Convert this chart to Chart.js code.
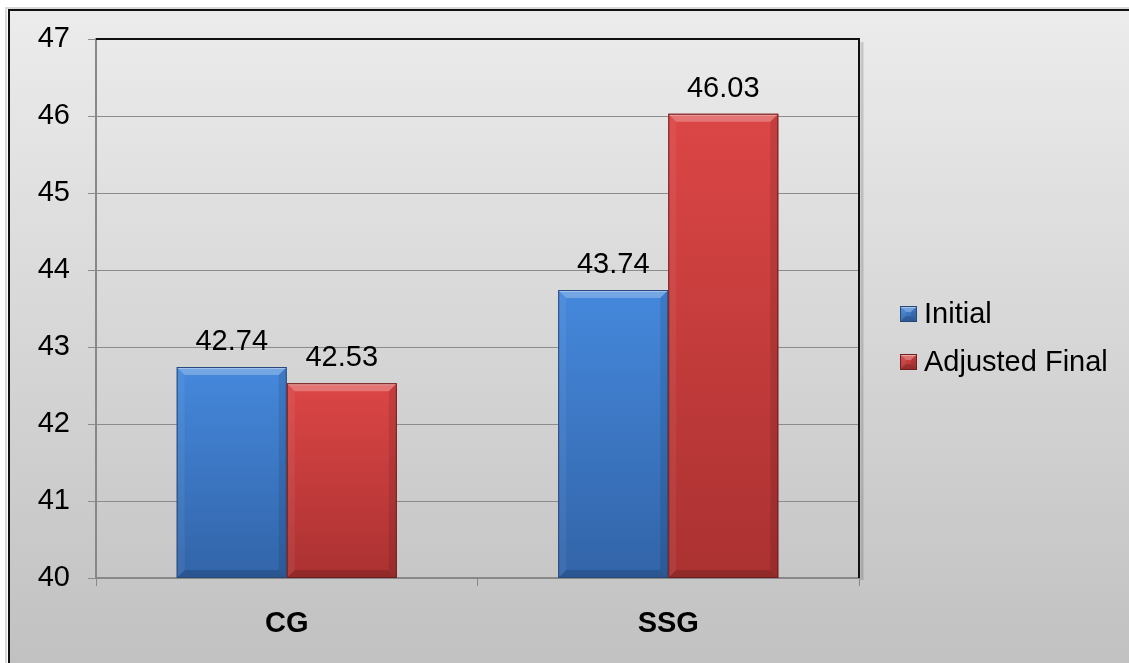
<!DOCTYPE html>
<html>
<head>
<meta charset="utf-8">
<script src="https://cdn.jsdelivr.net/npm/chart.js@4.4.0/dist/chart.umd.min.js"></script>
<style>
  html, body { margin: 0; padding: 0; background: #fff; }
  #wrap { width: 1129px; height: 663px; }
</style>
</head>
<body>
<div id="wrap"><canvas id="myChart" width="1129" height="663"></canvas></div>
<script>
// chart data
const categories = ["CG", "SSG"];
const seriesNames = ["Initial", "Adjusted Final"];
const initialValues = [42.74, 43.74];
const adjustedValues = [42.53, 46.03];
const yMin = 40;
const yMax = 47;

const FONT = "'Liberation Sans', Arial, sans-serif";
const solidColors = ["#3d78c6", "#d33f3f"];
const topColors = ["#4588dc", "#dc4646"];
const bottomColors = ["#3264a8", "#ab3131"];
const edgeColors = ["#27497a", "#6e1f1f"];

// gradient runs from each bar's top down to the axis
function barGradient(i) {
  return (context) => {
    const chart = context.chart;
    const area = chart.chartArea;
    const yScale = chart.scales.y;
    if (!area || !yScale || context.parsed == null) return solidColors[i];
    const top = yScale.getPixelForValue(context.parsed.y);
    const g = chart.ctx.createLinearGradient(0, top, 0, area.bottom);
    g.addColorStop(0, topColors[i]);
    g.addColorStop(1, bottomColors[i]);
    return g;
  };
}

// bevelled box, used for bars and legend keys
function bevelBox(ctx, l, t, r, b, s, edge) {
  const poly = (pts, fill) => {
    ctx.beginPath();
    ctx.moveTo(pts[0][0], pts[0][1]);
    for (let k = 1; k < pts.length; k++) ctx.lineTo(pts[k][0], pts[k][1]);
    ctx.closePath();
    ctx.fillStyle = fill;
    ctx.fill();
  };
  poly([[l, t], [r, t], [r - s, t + s], [l + s, t + s]], "rgba(255,255,255,0.26)");
  poly([[l, t], [l + s, t + s], [l + s, b - s], [l, b]], "rgba(255,255,255,0.06)");
  poly([[r, t], [r - s, t + s], [r - s, b - s], [r, b]], "rgba(0,0,0,0.10)");
  poly([[l, b], [l + s, b - s], [r - s, b - s], [r, b]], "rgba(0,0,0,0.14)");
  ctx.strokeStyle = "rgba(255,255,255,0.35)";
  ctx.lineWidth = 1;
  ctx.beginPath();
  ctx.moveTo(l + 1, t + 1.5); ctx.lineTo(r - 1, t + 1.5);
  ctx.stroke();
  ctx.strokeStyle = edge;
  ctx.strokeRect(l + 0.5, t + 0.5, r - l - 1, b - t - 1);
}

const backdrop = {
  id: "backdrop",
  beforeDraw(chart) {
    const { ctx, width, height } = chart;
    ctx.save();
    ctx.fillStyle = "#fff";
    ctx.fillRect(0, 0, width, height);
    const g = ctx.createLinearGradient(0, 10, 0, height);
    g.addColorStop(0, "#ececec");
    g.addColorStop(1, "#c1c1c1");
    ctx.fillStyle = g;
    ctx.fillRect(8, 10, width - 8, height - 10);
    // outer frame
    ctx.strokeStyle = "rgba(0,0,0,0.15)";
    ctx.lineWidth = 2;
    ctx.beginPath();
    ctx.moveTo(6, height); ctx.lineTo(6, 8); ctx.lineTo(width, 8);
    ctx.stroke();
    ctx.strokeStyle = "#111";
    ctx.beginPath();
    ctx.moveTo(9, height); ctx.lineTo(9, 10); ctx.lineTo(width, 10);
    ctx.stroke();
    ctx.restore();
  },
  afterDraw(chart) {
    const { ctx, chartArea: a } = chart;
    ctx.save();
    // plot frame, top and right
    ctx.strokeStyle = "rgba(0,0,0,0.15)";
    ctx.lineWidth = 3;
    ctx.beginPath();
    ctx.moveTo(a.right + 3, a.top + 3); ctx.lineTo(a.right + 3, a.bottom + 2);
    ctx.stroke();
    ctx.strokeStyle = "#111";
    ctx.lineWidth = 2;
    ctx.beginPath();
    ctx.moveTo(a.left, a.top); ctx.lineTo(a.right, a.top); ctx.lineTo(a.right, a.bottom);
    ctx.stroke();

    // legend
    ctx.font = "29px " + FONT;
    ctx.textAlign = "left";
    ctx.textBaseline = "middle";
    seriesNames.forEach((name, i) => {
      const cy = 314 + i * 48;
      const bx = a.right + 41;
      const g = ctx.createLinearGradient(0, cy - 8, 0, cy + 8);
      g.addColorStop(0, topColors[i]);
      g.addColorStop(1, bottomColors[i]);
      ctx.fillStyle = g;
      ctx.fillRect(bx, cy - 8, 17, 16);
      bevelBox(ctx, bx, cy - 8, bx + 17, cy + 8, 6, edgeColors[i]);
      ctx.fillStyle = "#000";
      ctx.fillText(name, bx + 24, cy + 1);
    });
    ctx.restore();
  }
};

const barDecor = {
  id: "barDecor",
  afterDatasetsDraw(chart) {
    const { ctx, chartArea } = chart;
    ctx.save();
    chart.data.datasets.forEach((ds, di) => {
      const meta = chart.getDatasetMeta(di);
      meta.data.forEach((el, i) => {
        const p = el.getProps(["x", "y", "base", "width"], true);
        const l = p.x - p.width / 2, r = p.x + p.width / 2, t = p.y;
        const b = Math.min(p.base, chartArea.bottom);
        bevelBox(ctx, l, t, r, b, 8, edgeColors[di]);
        // value label
        ctx.fillStyle = "#000";
        ctx.font = "29px " + FONT;
        ctx.textAlign = "center";
        ctx.textBaseline = "alphabetic";
        ctx.fillText(ds.data[i].toFixed(2), p.x, t - 17);
      });
    });
    ctx.restore();
  }
};

new Chart(document.getElementById("myChart"), {
  type: "bar",
  data: {
    labels: categories,
    datasets: [
      { label: seriesNames[0], data: initialValues, backgroundColor: barGradient(0) },
      { label: seriesNames[1], data: adjustedValues, backgroundColor: barGradient(1) }
    ]
  },
  options: {
    responsive: false,
    animation: false,
    devicePixelRatio: 1,
    categoryPercentage: 0.577,
    barPercentage: 1,
    layout: { padding: { top: 39, left: 0, right: 270, bottom: 0 } },
    scales: {
      x: {
        grid: { drawOnChartArea: false, drawTicks: true, tickLength: 8, color: "#888", lineWidth: 1 },
        border: { color: "#888", width: 2 },
        ticks: { color: "#000", padding: 21, font: { family: FONT, size: 29, weight: "bold" } },
        afterFit(scale) { scale.height = 85; }
      },
      y: {
        min: yMin,
        max: yMax,
        grid: { color: "#8c8c8c", lineWidth: 1, tickLength: 8 },
        border: { color: "#888", width: 2 },
        ticks: { stepSize: 1, color: "#000", padding: 18, font: { family: FONT, size: 29 } },
        afterFit(scale) { scale.width = 96; }
      }
    },
    plugins: {
      tooltip: { enabled: false },
      legend: { display: false }
    }
  },
  plugins: [backdrop, barDecor]
});
</script>
</body>
</html>
